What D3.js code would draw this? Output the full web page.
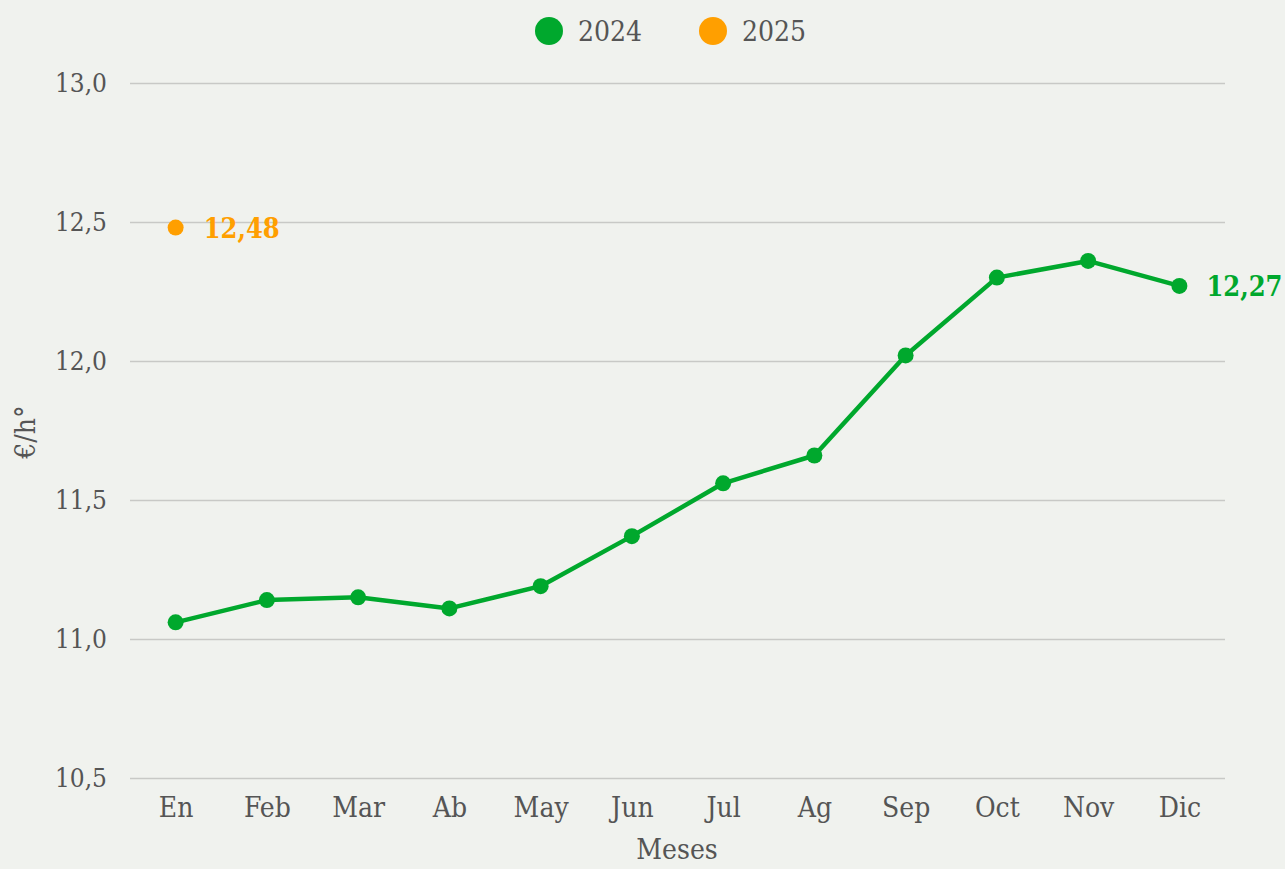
<!DOCTYPE html>
<html>
<head>
<meta charset="utf-8">
<script src="https://d3js.org/d3.v7.min.js"></script>
<style>
  body { margin: 0; background: #f0f2ee; }
  text { font-family: 'Roboto Slab', 'DejaVu Serif Condensed', 'DejaVu Serif', serif; }
</style>
</head>
<body>
<svg id="chart" width="1285" height="869"></svg>
<script>
// data
const months = ["En", "Feb", "Mar", "Ab", "May", "Jun", "Jul", "Ag", "Sep", "Oct", "Nov", "Dic"];
const values2024 = [11.06, 11.14, 11.15, 11.11, 11.19, 11.37, 11.56, 11.66, 12.02, 12.30, 12.36, 12.27];
const values2025 = [12.48];
const yTicks = [10.5, 11.0, 11.5, 12.0, 12.5, 13.0];
const seriesNames = ["2024", "2025"];

const green = "#00a82d", orange = "#ff9f00", textCol = "#555";

const svg = d3.select("#chart");
svg.append("rect").attr("width", 1285).attr("height", 869).attr("fill", "#f0f2ee");

const x = d3.scalePoint().domain(months).range([130, 1225]).padding(0.5);
const y = d3.scaleLinear().domain([10.5, 13.0]).range([778, 83]);
const fmt = v => v.toFixed(1).replace(".", ",");

// gridlines + y labels
const yAxis = svg.append("g")
  .attr("transform", "translate(130,0)")
  .call(d3.axisLeft(y).tickValues(yTicks).tickSize(-1095).tickPadding(23).tickFormat(fmt));
yAxis.select(".domain").remove();
yAxis.selectAll(".tick line").attr("stroke", "#c8c9c6").attr("stroke-width", 1.3);
yAxis.selectAll(".tick text").attr("fill", textCol).style("font-size", "26px").attr("font-family", null);

// x labels
const xAxis = svg.append("g")
  .attr("transform", "translate(0,778)")
  .call(d3.axisBottom(x).tickSize(0).tickPadding(19));
xAxis.select(".domain").remove();
xAxis.selectAll(".tick text").attr("fill", textCol).style("font-size", "28px").attr("font-family", null);

// axis titles
svg.append("text")
  .attr("x", 677).attr("y", 859)
  .attr("text-anchor", "middle")
  .attr("fill", textCol).style("font-size", "28px")
  .text("Meses");

svg.append("text")
  .attr("transform", "translate(35,432) rotate(-90)")
  .attr("text-anchor", "middle")
  .attr("fill", textCol).style("font-size", "28px")
  .text("€/h°");

// 2024 line
const line = d3.line().x((d, i) => x(months[i])).y(d => y(d));
svg.append("path")
  .datum(values2024)
  .attr("d", line)
  .attr("fill", "none")
  .attr("stroke", green)
  .attr("stroke-width", 4.5)
  .attr("stroke-linejoin", "round");

svg.selectAll(".p24").data(values2024).enter().append("circle")
  .attr("class", "p24")
  .attr("cx", (d, i) => x(months[i]))
  .attr("cy", d => y(d))
  .attr("r", 8)
  .attr("fill", green);

svg.selectAll(".p25").data(values2025).enter().append("circle")
  .attr("class", "p25")
  .attr("cx", (d, i) => x(months[i]))
  .attr("cy", d => y(d))
  .attr("r", 8)
  .attr("fill", orange);

// end labels
function fmt2(v) { return v.toFixed(2).replace(".", ","); }
const last = values2024.length - 1;
svg.append("text")
  .attr("x", x(months[last]) + 27).attr("y", y(values2024[last]))
  .attr("dy", "0.38em")
  .attr("fill", green).style("font-size", "27px").style("font-weight", "bold")
  .text(fmt2(values2024[last]));

svg.append("text")
  .attr("x", x(months[0]) + 28).attr("y", y(values2025[0]))
  .attr("dy", "0.38em")
  .attr("fill", orange).style("font-size", "27px").style("font-weight", "bold")
  .text(fmt2(values2025[0]));

// legend
const legendX = [549, 713];
const lg = svg.selectAll(".lg").data(seriesNames).enter().append("g")
  .attr("transform", (d, i) => "translate(" + legendX[i] + ",31)");
lg.append("circle").attr("r", 14).attr("fill", (d, i) => i == 0 ? green : orange);
lg.append("text")
  .attr("x", 29).attr("dy", "0.37em")
  .attr("fill", textCol).style("font-size", "28px")
  .text(d => d);
</script>
</body>
</html>
